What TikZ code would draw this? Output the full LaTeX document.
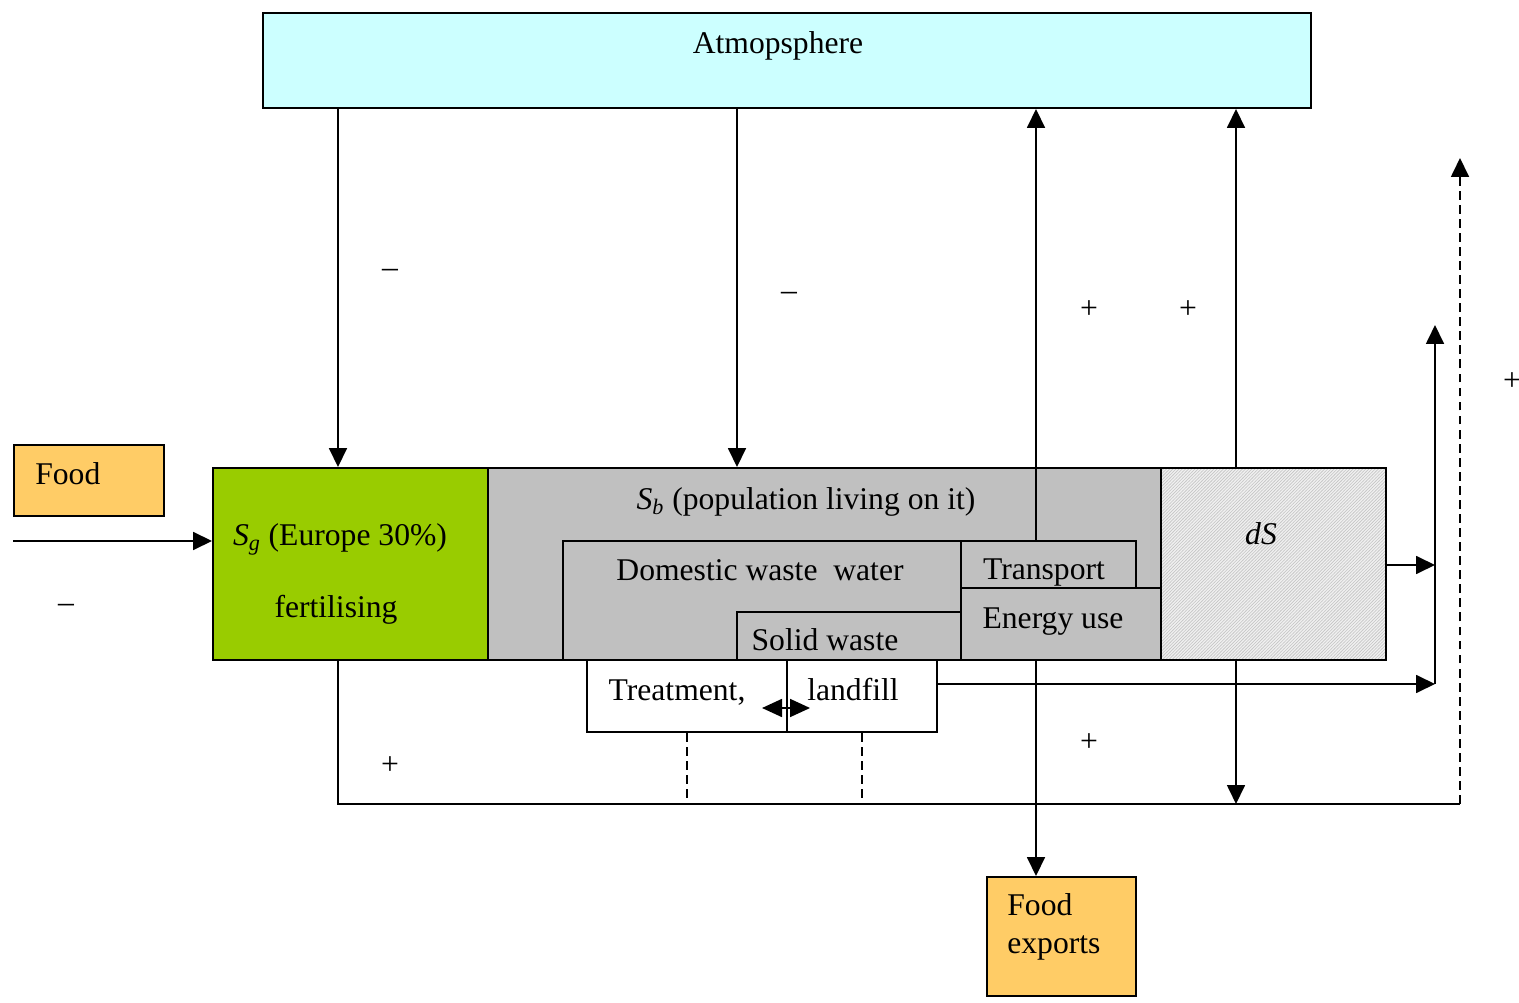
\documentclass[tikz,border=0pt]{standalone}
\usepackage{fontspec}
\setmainfont{Liberation Serif}
\usetikzlibrary{arrows.meta,fit,patterns}
\definecolor{airblue}{HTML}{CCFFFF}
\definecolor{foodorange}{HTML}{FFCC66}
\definecolor{landgreen}{HTML}{99CC00}
\definecolor{popgray}{HTML}{C0C0C0}
\pgfdeclarepatternformonly{fine hatch}{\pgfqpoint{-1pt}{-1pt}}{\pgfqpoint{2.8pt}{2.8pt}}{\pgfqpoint{1.8pt}{1.8pt}}
{\pgfsetlinewidth{0.35pt}\pgfpathmoveto{\pgfqpoint{-0.1pt}{-0.1pt}}\pgfpathlineto{\pgfqpoint{1.9pt}{1.9pt}}\pgfusepath{stroke}}
\tikzstyle{block}=[draw,line width=1.1pt,inner sep=0pt]
\tikzstyle{txt}=[inner sep=0pt,anchor=base,font=\fontsize{18}{21}\selectfont]
\tikzstyle{sign}=[inner sep=0pt,font=\fontsize{18}{21}\selectfont]
\tikzstyle{link}=[draw,line width=1pt]
\tikzstyle{flow}=[link,-{Triangle[length=0.38cm,width=0.36cm]}]
\tikzstyle{dlink}=[link,dashed,dash pattern=on 5pt off 3pt]

\begin{document}
\begin{tikzpicture}[x=0.02cm,y=-0.02cm]
                    \useasboundingbox (0,0) rectangle (1519,1003);

                    \node[block,fill=airblue,fit={(263,13) (1311,108)}] (atmo) {};
                    \node[block,fill=foodorange,fit={(14,445) (164,516)}] (food) {};
                    \node[block,fill=landgreen,fit={(213,468) (488,660)}] (sg) {};
                    \node[block,fill=popgray,fit={(488,468) (1161,660)}] (sb) {};
                    \node[block,fill=popgray,fit={(563,541) (961,660)}] (dww) {};
                    \node[block,fill=popgray,fit={(737,612) (961,660)}] (solid) {};
                    \node[block,fill=popgray,fit={(961,541) (1136,588)}] (trans) {};
                    \node[block,fill=popgray,fit={(961,588) (1161,660)}] (energy) {};
                    \node[block,preaction={fill=gray!12},pattern=fine hatch,pattern color=gray!45,fit={(1161,468) (1386,660)}] (ds) {};
                    \node[block,fill=white,fit={(587,660) (787,732)}] (treat) {};
                    \node[block,fill=white,fit={(787,660) (937,732)}] (land) {};
                    \node[block,fill=foodorange,fit={(987,877) (1136,996)}] (exports) {};

                    \node[txt] (atmolabel) at (778,54) {Atmopsphere};
                    \node[txt,anchor=base west] (foodlabel) at (35,485) {Food};
                    \node[txt] (sglabel) at (340,546) {\textit{S}\textsubscript{\textit{g}} (Europe 30\%)};
                    \node[txt] (sgfert) at (336,618) {fertilising};
                    \node[txt] (sblabel) at (806,510) {\textit{S}\textsubscript{\textit{b}} (population living on it)};
                    \node[txt] (dwwlabel) at (760,581) {Domestic waste\ \ water};
                    \node[txt] (solidlabel) at (825,650) {Solid waste};
                    \node[txt] (translabel) at (1044,580) {Transport};
                    \node[txt] (energylabel) at (1053,628) {Energy use};
                    \node[txt] (dslabel) at (1261,544) {\textit{dS}};
                    \node[txt] (treatlabel) at (677,700) {Treatment,};
                    \node[txt] (landlabel) at (853,700) {landfill};
                    \node[txt,anchor=base west] (explabel) at (1007,915) {Food};
                    \node[txt,anchor=base west] (explabel2) at (1007,953) {exports};

                    \coordinate (loopend) at (1460,804);
                    \coordinate (dashtop) at (1460,158);
                    \coordinate (sumtop) at (1435,325);
                    \coordinate (sumbot) at (1435,684);

                    \path[flow] (food.south west |- 0,541) -- (sg.west |- 0,541);
                    \path[flow] (338,0 |- atmo.south) -- (338,0 |- sg.north);
                    \path[flow] (737,0 |- atmo.south) -- (737,0 |- sb.north);
                    \path[flow] (1036,0 |- trans.north) -- (1036,0 |- atmo.south);
                    \path[flow] (1236,0 |- ds.north) -- (1236,0 |- atmo.south);

                    \path[flow] (1036,0 |- energy.south) -- (1036,0 |- exports.north);
                    \path[flow] (1236,0 |- ds.south) -- (1236,0 |- loopend);
                    \path[link] (338,0 |- sg.south) -- (338,0 |- loopend) -- (loopend);
                    \path[dlink,-{Triangle[length=0.38cm,width=0.36cm]}] (loopend) -- (dashtop);
                    \path[dlink] (687,0 |- treat.south) -- (687,0 |- loopend);
                    \path[dlink] (862,0 |- land.south) -- (862,0 |- loopend);

                    \path[flow] (ds.east |- 0,565) -- (sumtop |- 0,565);
                    \path[flow] (land.east |- sumbot) -- (sumbot);
                    \path[flow] (sumbot) -- (sumtop);
                    \path[link,{Triangle[length=0.4cm,width=0.36cm]}-{Triangle[length=0.4cm,width=0.36cm]}] ([shift={(-24,12)}]land.west) -- ([shift={(24,12)}]land.west);

                    \node[sign] (m1) at (390,273) {--};
                    \node[sign] (m2) at (789,296) {--};
                    \node[sign] (m3) at (66,608) {--};
                    \node[sign] (p1) at (1089,310) {+};
                    \node[sign] (p2) at (1188,310) {+};
                    \node[sign] (p3) at (1089,743) {+};
                    \node[sign] (p4) at (390,766) {+};
                    \node[sign] (p5) at (1512,382) {+};
                \end{tikzpicture}
\end{document}
